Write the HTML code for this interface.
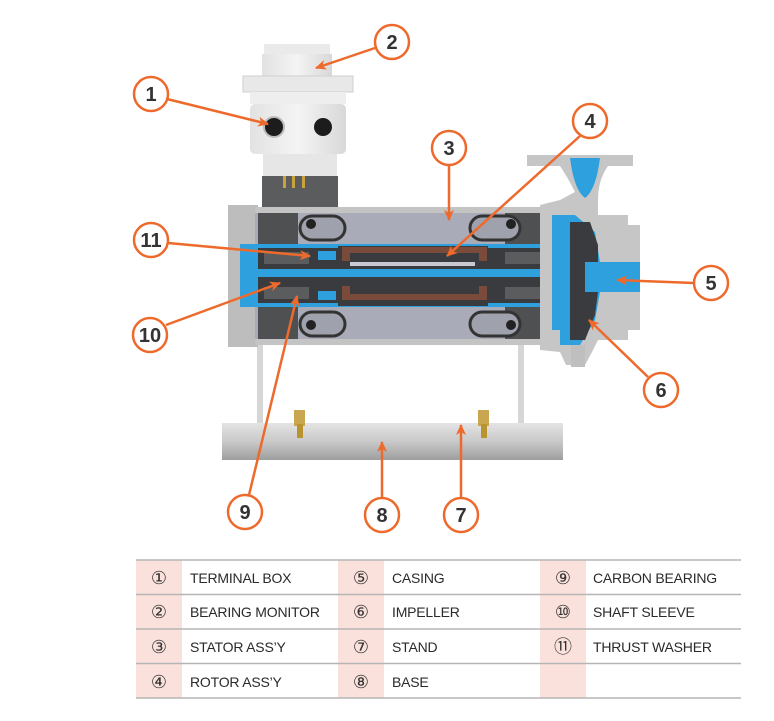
<!DOCTYPE html>
<html><head><meta charset="utf-8"><style>
html,body{margin:0;padding:0;background:#fff;}
svg{display:block;}
.t{font-family:"Liberation Sans Narrow","Liberation Sans",sans-serif;font-size:14px;letter-spacing:-0.2px;fill:#2a2a2a;}
.n{font-family:"Liberation Sans","DejaVu Sans",sans-serif;font-size:20px;font-weight:bold;fill:#333;text-anchor:middle;}
.c{font-family:"DejaVu Sans",sans-serif;font-size:18px;fill:#333;text-anchor:middle;}
</style></head><body>
<svg width="774" height="721" viewBox="0 0 774 721" xmlns="http://www.w3.org/2000/svg">
<defs>
<marker id="ar" markerWidth="11" markerHeight="10" refX="10" refY="5" orient="auto" markerUnits="userSpaceOnUse" viewBox="0 0 11 10"><path d="M0,0 L11,5 L0,10 L3,5 Z" fill="#ee6a2c"/></marker>
<linearGradient id="beam" x1="0" y1="0" x2="0" y2="1"><stop offset="0" stop-color="#e4e4e4"/><stop offset="0.5" stop-color="#c9c9c9"/><stop offset="1" stop-color="#9e9e9e"/></linearGradient>
<linearGradient id="box" x1="0" y1="0" x2="1" y2="0"><stop offset="0" stop-color="#e2e2e2"/><stop offset="0.5" stop-color="#f4f4f4"/><stop offset="1" stop-color="#d8d8d8"/></linearGradient>
</defs>

<rect x="257" y="340" width="6" height="85" fill="#d6d6d6"/>
<rect x="518" y="340" width="6" height="85" fill="#d6d6d6"/>
<rect x="222" y="423" width="341" height="37" fill="url(#beam)"/>
<rect x="294" y="410" width="11" height="16" fill="#c9a650"/>
<rect x="297" y="424" width="6" height="14" fill="#b8932e"/>
<rect x="478" y="410" width="11" height="16" fill="#c9a650"/>
<rect x="481" y="424" width="6" height="14" fill="#b8932e"/>

<rect x="264" y="44" width="66" height="12" fill="#eaeaea"/>
<rect x="262" y="54" width="70" height="22" fill="url(#box)"/>
<rect x="243" y="76" width="110" height="16" fill="#e8e8e8" stroke="#cfcfcf"/>
<rect x="250" y="92" width="96" height="12" fill="#eeeeee"/>
<rect x="250" y="104" width="96" height="50" rx="5" fill="url(#box)"/>
<circle cx="274" cy="127" r="10" fill="#1c1c1c" stroke="#bbb" stroke-width="2"/>
<circle cx="323" cy="127" r="9" fill="#1c1c1c"/>
<rect x="263" y="154" width="74" height="22" fill="#e6e6e6"/>
<rect x="262" y="176" width="76" height="32" fill="#5a5c5e"/>
<rect x="283" y="176" width="3" height="12" fill="#c9a23c"/>
<rect x="292" y="176" width="3" height="12" fill="#c9a23c"/>
<rect x="302" y="176" width="3" height="12" fill="#c9a23c"/>

<rect x="228" y="205" width="30" height="142" fill="#bdbdbd"/>
<rect x="255" y="207" width="290" height="138" fill="#a9abb8"/>
<rect x="255" y="207" width="290" height="6" fill="#c4c4c4"/>
<rect x="255" y="339" width="290" height="6" fill="#c4c4c4"/>
<rect x="258" y="213" width="40" height="126" fill="#4f5052"/>
<rect x="505" y="213" width="40" height="126" fill="#4f5052"/>
<rect x="300" y="216" width="45" height="24" rx="12" fill="#9fa1ad" stroke="#333" stroke-width="3"/>
<circle cx="311" cy="224" r="5" fill="#222"/>
<rect x="470" y="216" width="50" height="24" rx="12" fill="#9fa1ad" stroke="#333" stroke-width="3"/>
<circle cx="511" cy="224" r="5" fill="#222"/>
<rect x="300" y="312" width="45" height="24" rx="12" fill="#9fa1ad" stroke="#333" stroke-width="3"/>
<circle cx="311" cy="325" r="5" fill="#222"/>
<rect x="470" y="312" width="50" height="24" rx="12" fill="#9fa1ad" stroke="#333" stroke-width="3"/>
<circle cx="511" cy="325" r="5" fill="#222"/>
<rect x="240" y="244" width="310" height="63" fill="#2fa0de"/>
<rect x="258" y="248" width="285" height="55" fill="#3a3b3e"/>
<rect x="338" y="246" width="150" height="60" fill="#3a3b3e"/>
<rect x="342" y="247" width="145" height="6" fill="#7a4a3a"/>
<rect x="342" y="247" width="8" height="14" fill="#7a4a3a"/>
<rect x="479" y="247" width="8" height="14" fill="#7a4a3a"/>
<rect x="342" y="294" width="145" height="6" fill="#7a4a3a"/>
<rect x="342" y="286" width="8" height="14" fill="#7a4a3a"/>
<rect x="479" y="286" width="8" height="14" fill="#7a4a3a"/>
<rect x="350" y="262" width="125" height="4" fill="#c9c9d4"/>
<rect x="264" y="252" width="45" height="12" fill="#5a5c5e"/>
<rect x="264" y="287" width="45" height="12" fill="#5a5c5e"/>
<rect x="505" y="252" width="45" height="12" fill="#5a5c5e"/>
<rect x="505" y="287" width="45" height="12" fill="#5a5c5e"/>
<rect x="318" y="251" width="18" height="9" fill="#2fa0de"/>
<rect x="318" y="291" width="18" height="9" fill="#2fa0de"/>
<rect x="240" y="269" width="350" height="8" fill="#2fa0de"/>
<rect x="240" y="258" width="16" height="32" fill="#2fa0de"/>

<path d="M527 155 L633 155 L633 166 L608 166 Q598 180 598 200 L598 215 L628 215 L628 225 L640 225 L640 330 L628 330 L628 340 L598 340 L592 352 L585 365 L566 365 L560 352 L540 350 L540 205 L560 200 L575 192 Q568 178 560 166 L527 166 Z" fill="#c6c6c6"/>
<path d="M570 158 L600 158 Q596 190 585 198 Q574 190 570 158 Z" fill="#2fa0de"/>
<path d="M552 215 L575 215 L595 232 L600 262 L640 262 L640 292 L600 292 L595 320 L580 345 L560 345 L560 330 L552 330 Z" fill="#2fa0de"/>
<path d="M570 222 L590 222 L598 245 L598 262 L585 262 L585 292 L598 292 L595 315 L585 340 L570 340 Z" fill="#3a3b3e"/>
<rect x="585" y="262" width="55" height="30" fill="#2fa0de"/>
<rect x="571" y="345" width="14" height="22" fill="#bfbfbf"/>

<g stroke="#ee6a2c" stroke-width="2.5" fill="none" marker-end="url(#ar)">
<line x1="167" y1="99" x2="268" y2="124"/>
<line x1="375" y1="48" x2="316" y2="68"/>
<line x1="449" y1="165" x2="449" y2="220"/>
<line x1="580" y1="136" x2="447" y2="256"/>
<line x1="694" y1="283" x2="617" y2="280"/>
<line x1="648" y1="377" x2="589" y2="320"/>
<line x1="461" y1="498" x2="461" y2="425"/>
<line x1="382" y1="498" x2="382" y2="442"/>
<line x1="249" y1="495" x2="297" y2="296"/>
<line x1="166" y1="325" x2="280" y2="283"/>
<line x1="168" y1="243" x2="310" y2="256"/>
</g>
<g fill="#fff" stroke="#ee6a2c" stroke-width="2.5">
<circle cx="151" cy="94" r="17"/><circle cx="392" cy="42" r="17"/>
<circle cx="449" cy="148" r="17"/><circle cx="590" cy="121" r="17"/>
<circle cx="711" cy="283" r="17"/><circle cx="661" cy="390" r="17"/>
<circle cx="461" cy="515" r="17"/><circle cx="382" cy="515" r="17"/>
<circle cx="245" cy="512" r="17"/><circle cx="150" cy="335" r="17"/>
<circle cx="151" cy="240" r="17"/>
</g>
<text class="n" x="151" y="101">1</text><text class="n" x="392" y="49">2</text>
<text class="n" x="449" y="155">3</text><text class="n" x="590" y="128">4</text>
<text class="n" x="711" y="290">5</text><text class="n" x="661" y="397">6</text>
<text class="n" x="461" y="522">7</text><text class="n" x="382" y="522">8</text>
<text class="n" x="245" y="519">9</text><text class="n" x="150" y="342">10</text>
<text class="n" x="151" y="247">11</text>

<rect x="136" y="560" width="46" height="138" fill="#fbe1dc"/>
<rect x="338" y="560" width="46" height="138" fill="#fbe1dc"/>
<rect x="540" y="560" width="46" height="138" fill="#fbe1dc"/>
<g stroke="#b5b5b5" stroke-width="1.5">
<line x1="136" y1="560" x2="741" y2="560"/><line x1="136" y1="594.5" x2="741" y2="594.5"/>
<line x1="136" y1="629" x2="741" y2="629"/><line x1="136" y1="663.5" x2="741" y2="663.5"/>
<line x1="136" y1="698" x2="741" y2="698"/>
</g>
<text class="c" x="159" y="584">①</text><text class="t" x="190" y="583">TERMINAL BOX</text>
<text class="c" x="159" y="618">②</text><text class="t" x="190" y="617">BEARING MONITOR</text>
<text class="c" x="159" y="653">③</text><text class="t" x="190" y="652">STATOR ASS’Y</text>
<text class="c" x="159" y="688">④</text><text class="t" x="190" y="687">ROTOR ASS’Y</text>
<text class="c" x="361" y="584">⑤</text><text class="t" x="392" y="583">CASING</text>
<text class="c" x="361" y="618">⑥</text><text class="t" x="392" y="617">IMPELLER</text>
<text class="c" x="361" y="653">⑦</text><text class="t" x="392" y="652">STAND</text>
<text class="c" x="361" y="688">⑧</text><text class="t" x="392" y="687">BASE</text>
<text class="c" x="563" y="584">⑨</text><text class="t" x="593" y="583">CARBON BEARING</text>
<text class="c" x="563" y="618">⑩</text><text class="t" x="593" y="617">SHAFT SLEEVE</text>
<text class="c" x="563" y="653">⑪</text><text class="t" x="593" y="652">THRUST WASHER</text>
</svg>
</body></html>
